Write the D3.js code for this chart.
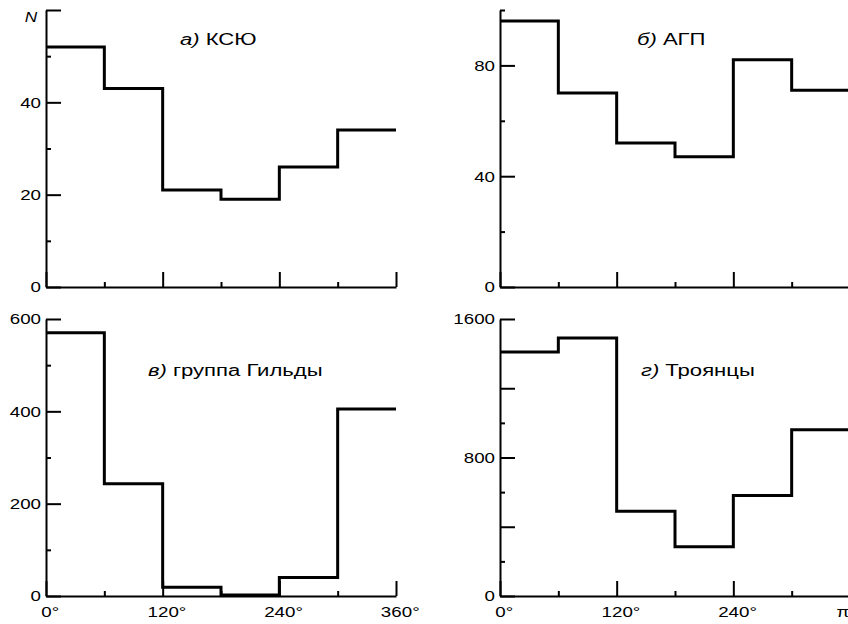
<!DOCTYPE html>
<html>
<head>
<meta charset="utf-8">
<script src="https://cdn.jsdelivr.net/npm/d3@7"></script>
<style>
  body { margin: 0; background: #fff; }
  svg { display: block; font-family: "Liberation Sans", Arial, sans-serif; }
  .tick text { font-size: 15px; fill: #000; }
  .tick line, .domain { stroke: #000; stroke-width: 2; }
</style>
</head>
<body>
<div id="chart"></div>
<script>
// bin edges in degrees (6 bins of 60 deg)
var binEdges = [0, 60, 120, 180, 240, 300, 360];

// counts per bin
var countsKSU = [52, 43, 21, 19, 26, 34];
var countsAGP = [96, 70, 52, 47, 82, 71];
var countsGilda = [570, 243, 19, 2, 40, 405];
var countsTrojans = [1410, 1490, 490, 285, 580, 960];

// y-axis ticks
var majorKSU = [0, 20, 40, 60];
var minorKSU = [10, 30, 50];
var labelsKSU = ["0", "20", "40", ""];
var majorAGP = [0, 40, 80];
var minorAGP = [20, 60, 100];
var labelsAGP = ["0", "40", "80"];
var majorGilda = [0, 200, 400, 600];
var minorGilda = [100, 300, 500];
var labelsGilda = ["0", "200", "400", "600"];
var majorTrojans = [0, 400, 800, 1200, 1600];
var minorTrojans = [200, 600, 1000];
var labelsTrojans = ["0", "", "800", "", "1600"];

// x-axis ticks
var xMajor = [0, 120, 240, 360];
var xMinor = [60, 180, 300];
var xLabelsLeft = ["0°", "120°", "240°", "360°"];
var xLabelsRight = ["0°", "120°", "240°", "π"];

var width = 848;
var height = 624;
// the source lettering is wider than Liberation Sans
var TICK_STRETCH = 1.25;
var TITLE_STRETCH = 1.38;

var svg = d3
  .select("#chart")
  .append("svg")
  .attr("width", width)
  .attr("height", height);

var panels = [
  { letter: "а)", name: "КСЮ", counts: countsKSU, yMax: 60, major: majorKSU, minor: minorKSU, labels: labelsKSU,
    x0: 46, x1: 396, y0: 287, y1: 10, tx: 180, ty: 45, xLabels: null },
  { letter: "б)", name: "АГП", counts: countsAGP, yMax: 100, major: majorAGP, minor: minorAGP, labels: labelsAGP,
    x0: 500, x1: 850, y0: 287, y1: 10, tx: 637, ty: 45, xLabels: null },
  { letter: "в)", name: "группа Гильды", counts: countsGilda, yMax: 600, major: majorGilda, minor: minorGilda, labels: labelsGilda,
    x0: 46, x1: 396, y0: 596, y1: 319, tx: 148, ty: 376, xLabels: xLabelsLeft },
  { letter: "г)", name: "Троянцы", counts: countsTrojans, yMax: 1600, major: majorTrojans, minor: minorTrojans, labels: labelsTrojans,
    x0: 500, x1: 850, y0: 596, y1: 319, tx: 641, ty: 376, xLabels: xLabelsRight }
];

panels.forEach(function(p) {
  var x = d3.scaleLinear().domain([0, 360]).range([p.x0, p.x1]);
  var y = d3.scaleLinear().domain([0, p.yMax]).range([p.y0, p.y1]);
  var g = svg.append("g");

  // minor ticks first, then major with axis line
  g.append("g")
    .attr("transform", "translate(" + p.x0 + ",0)")
    .call(d3.axisLeft(y).tickValues(p.minor).tickSize(-5).tickFormat(""))
    .call(function(s) { s.select(".domain").remove(); });

  g.append("g")
    .attr("transform", "translate(" + p.x0 + ",0)")
    .call(
      d3.axisLeft(y)
        .tickValues(p.major)
        .tickSize(-15)
        .tickSizeOuter(0)
        .tickPadding(4)
        .tickFormat(function(d, i) { return p.labels[i]; })
    )
    .selectAll(".tick text")
    .attr("transform", "scale(" + TICK_STRETCH + ",1)");

  g.append("g")
    .attr("transform", "translate(0," + p.y0 + ")")
    .call(d3.axisBottom(x).tickValues(xMinor).tickSize(-5).tickFormat(""))
    .call(function(s) { s.select(".domain").remove(); });

  g.append("g")
    .attr("transform", "translate(0," + p.y0 + ")")
    .call(
      d3.axisBottom(x)
        .tickValues(xMajor)
        .tickSize(-15)
        .tickSizeOuter(0)
        .tickPadding(10)
        .tickFormat(function(d, i) { return p.xLabels ? p.xLabels[i] : ""; })
    )
    .selectAll(".tick text")
    .attr("transform", "scale(" + TICK_STRETCH + ",1)")
    .attr("dx", function(d, i) {
      var t = p.xLabels ? p.xLabels[i] : "";
      return t.indexOf("°") >= 0 ? 3 : -6;
    });

  // step histogram
  var pts = p.counts.map(function(v, i) { return [binEdges[i], v]; });
  pts.push([binEdges[binEdges.length - 1], p.counts[p.counts.length - 1]]);
  var line = d3
    .line()
    .x(function(d) { return x(d[0]); })
    .y(function(d) { return y(d[1]); })
    .curve(d3.curveStepAfter);

  g.append("path")
    .datum(pts)
    .attr("d", line)
    .attr("fill", "none")
    .attr("stroke", "#000")
    .attr("stroke-width", 3);

  var title = g
    .append("text")
    .attr("transform", "translate(" + p.tx + "," + p.ty + ") scale(" + TITLE_STRETCH + ",1)")
    .attr("font-size", 16)
    .attr("fill", "#000");
  title.append("tspan").attr("font-style", "italic").text(p.letter);
  title.append("tspan").text(" " + p.name);
});

// axis label N on first panel
svg
  .append("text")
  .attr("transform", "translate(31,22) scale(1.15,1)")
  .attr("text-anchor", "middle")
  .attr("font-size", 15)
  .attr("font-style", "italic")
  .text("N");
</script>
</body>
</html>
